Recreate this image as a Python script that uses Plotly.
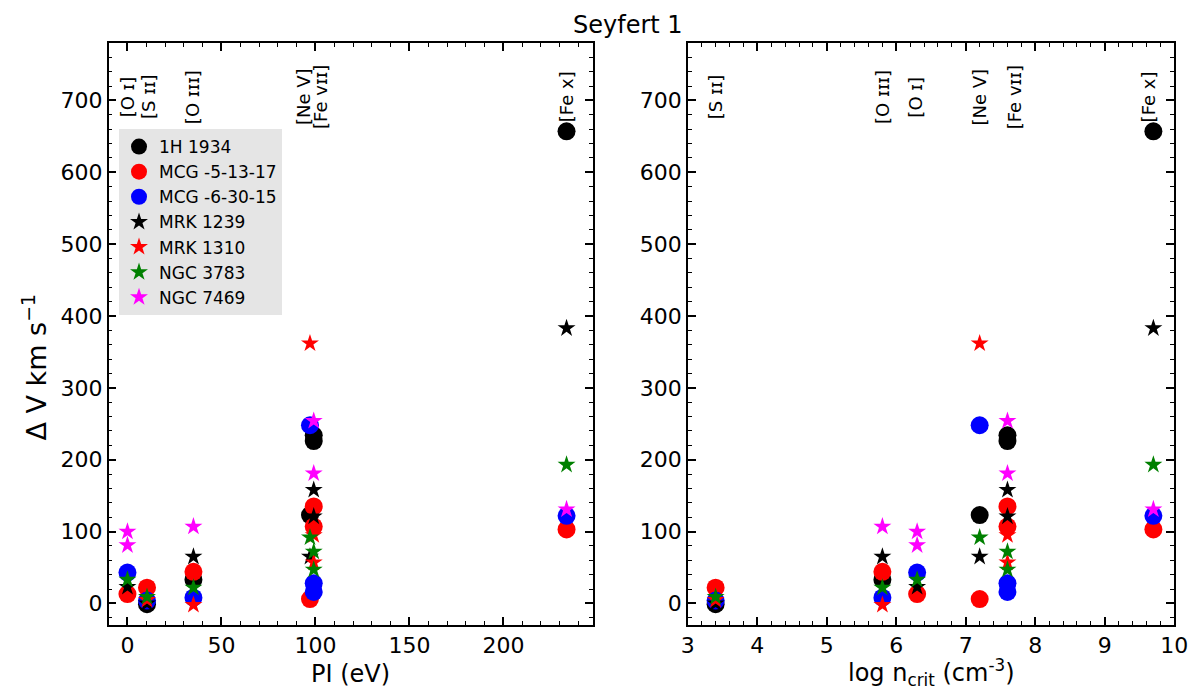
import plotly.graph_objects as go

# ---------------- data ----------------
line_keys = ["OI", "SII", "OIII", "NeV", "FeVII", "FeX"]
line_pi = [0.0, 10.4, 35.1, 97.1, 99.1, 233.6]          # PI (eV)
line_logn = [6.3, 3.4, 5.8, 7.2, 7.6, 9.7]               # log n_crit

# label texts and their x-positions on each panel
label_text_left = ["[O ɪ]", "[S ɪɪ]", "[O ɪɪɪ]", "[Ne V]", "[Fe ᴠɪɪ]", "[Fe x]"]
label_x_left = [0.0, 11.5, 35.0, 94.0, 103.0, 234.0]
label_text_right = ["[S ɪɪ]", "[O ɪɪɪ]", "[O ɪ]", "[Ne V]", "[Fe ᴠɪɪ]", "[Fe x]"]
label_x_right = [3.41, 5.81, 6.28, 7.2, 7.7, 9.63]
label_y = 705

galaxies = ["1H 1934", "MCG -5-13-17", "MCG -6-30-15", "MRK 1239", "MRK 1310", "NGC 3783", "NGC 7469"]

h1934_lines = ["SII", "OIII", "NeV", "FeVII", "FeVII", "FeX"]
h1934_dv = [-1, 33, 123, 234, 226, 657]

mcg5_lines = ["OI", "SII", "OIII", "NeV", "FeVII", "FeVII", "FeX"]
mcg5_dv = [13, 22, 44, 6, 135, 107, 103]

mcg6_lines = ["OI", "SII", "OIII", "NeV", "FeVII", "FeVII", "FeX"]
mcg6_dv = [43, 4, 8, 248, 28, 16, 122]

mrk1239_lines = ["OI", "SII", "OIII", "NeV", "FeVII", "FeVII", "FeX"]
mrk1239_dv = [23, 0, 65, 65, 158, 121, 383]

mrk1310_lines = ["SII", "OIII", "NeV", "FeVII", "FeVII"]
mrk1310_dv = [5, -2, 362, 95, 57]

ngc3783_lines = ["OI", "SII", "OIII", "NeV", "FeVII", "FeVII", "FeX"]
ngc3783_dv = [33, 9, 22, 92, 72, 47, 193]

ngc7469_lines = ["OI", "OI", "OIII", "FeVII", "FeVII", "FeX"]
ngc7469_dv = [100, 81, 107, 254, 181, 131]

gal_lines = [h1934_lines, mcg5_lines, mcg6_lines, mrk1239_lines, mrk1310_lines, ngc3783_lines, ngc7469_lines]
gal_dv = [h1934_dv, mcg5_dv, mcg6_dv, mrk1239_dv, mrk1310_dv, ngc3783_dv, ngc7469_dv]
gal_color = ["#000000", "#ff0000", "#0000ff", "#000000", "#ff0000", "#008000", "#ff00ff"]
gal_symbol = ["circle", "circle", "circle", "star", "star", "star", "star"]

# ---------------- figure ----------------
FONT = "DejaVu Sans"
fig = go.Figure()

for i, name in enumerate(galaxies):
    xs_pi = [line_pi[line_keys.index(k)] for k in gal_lines[i]]
    xs_n = [line_logn[line_keys.index(k)] for k in gal_lines[i]]
    size = 18 if gal_symbol[i] == "circle" else 13.5
    mk = dict(symbol=gal_symbol[i], color=gal_color[i], size=size, line=dict(width=0))
    fig.add_trace(go.Scatter(x=xs_pi, y=gal_dv[i], mode="markers", marker=mk, name=name,
                             xaxis="x", yaxis="y", showlegend=True, legendgroup=name))
    fig.add_trace(go.Scatter(x=xs_n, y=gal_dv[i], mode="markers", marker=mk, name=name,
                             xaxis="x2", yaxis="y2", showlegend=False, legendgroup=name))

axis_common = dict(
    showline=True, linecolor="black", linewidth=1.5, mirror="allticks",
    ticks="inside", ticklen=8, tickwidth=1.5, tickcolor="black",
    showgrid=False, zeroline=False,
    tickfont=dict(size=22, family=FONT, color="black"),
)

fig.update_layout(
    width=1203, height=689,
    margin=dict(l=0, r=0, t=0, b=0),
    paper_bgcolor="white", plot_bgcolor="white",
    font=dict(family=FONT, color="black"),
    xaxis=dict(domain=[0.0860, 0.4955], range=[-10, 247.5], dtick=50, tick0=0, anchor="y",
               minor=dict(ticks="inside", dtick=10, ticklen=4, tickwidth=1, tickcolor="black", showgrid=False),
               **axis_common),
    yaxis=dict(domain=[0.0929, 0.9376], range=[-30, 780], dtick=100, tick0=0, anchor="x",
               minor=dict(ticks="inside", dtick=20, ticklen=4, tickwidth=1, tickcolor="black", showgrid=False),
               **axis_common),
    xaxis2=dict(domain=[0.576, 0.9875], range=[3, 10], dtick=1, tick0=0, anchor="y2",
                minor=dict(ticks="inside", dtick=0.2, ticklen=4, tickwidth=1, tickcolor="black", showgrid=False),
                **axis_common),
    yaxis2=dict(domain=[0.0929, 0.9376], range=[-30, 780], dtick=100, tick0=0, anchor="x2",
                minor=dict(ticks="inside", dtick=20, ticklen=4, tickwidth=1, tickcolor="black", showgrid=False),
                **axis_common),
    legend=dict(x=114 / 1203, y=1 - 129 / 689, xanchor="left", yanchor="top",
                bgcolor="#e5e5e5", borderwidth=0,
                font=dict(size=17, family=FONT, color="black"),
                itemsizing="trace", tracegroupgap=0),
    showlegend=True,
)

annots = []
for t, x in zip(label_text_left, label_x_left):
    annots.append(dict(x=x, y=label_y, xref="x", yref="y", text=t, textangle=-90, showarrow=False,
                       xanchor="center", yanchor="middle", font=dict(size=18, family=FONT, color="black")))
for t, x in zip(label_text_right, label_x_right):
    annots.append(dict(x=x, y=label_y, xref="x2", yref="y2", text=t, textangle=-90, showarrow=False,
                       xanchor="center", yanchor="middle", font=dict(size=18, family=FONT, color="black")))

# titles
annots.append(dict(x=632 / 1203, y=1 - 25 / 689, xref="paper", yref="paper", text="Seyfert 1",
                   showarrow=False, xanchor="center", yanchor="middle", font=dict(size=24, family=FONT)))
annots.append(dict(x=(0.0860 + 0.4955) / 2, y=1 - 674 / 689, xref="paper", yref="paper", text="PI (eV)",
                   showarrow=False, xanchor="center", yanchor="middle", font=dict(size=24, family=FONT)))
annots.append(dict(x=(0.576 + 0.9875) / 2, y=1 - 672 / 689, xref="paper", yref="paper",
                   text="log n<sub>crit</sub> (cm<sup>-3</sup>)",
                   showarrow=False, xanchor="center", yanchor="middle", font=dict(size=24, family=FONT)))
annots.append(dict(x=27 / 1203, y=1 - 367 / 689, xref="paper", yref="paper",
                   text="Δ V km s<sup>−1</sup>", textangle=-90,
                   showarrow=False, xanchor="center", yanchor="middle", font=dict(size=27, family=FONT)))

fig.update_layout(annotations=annots)

fig.write_html("out.html")
